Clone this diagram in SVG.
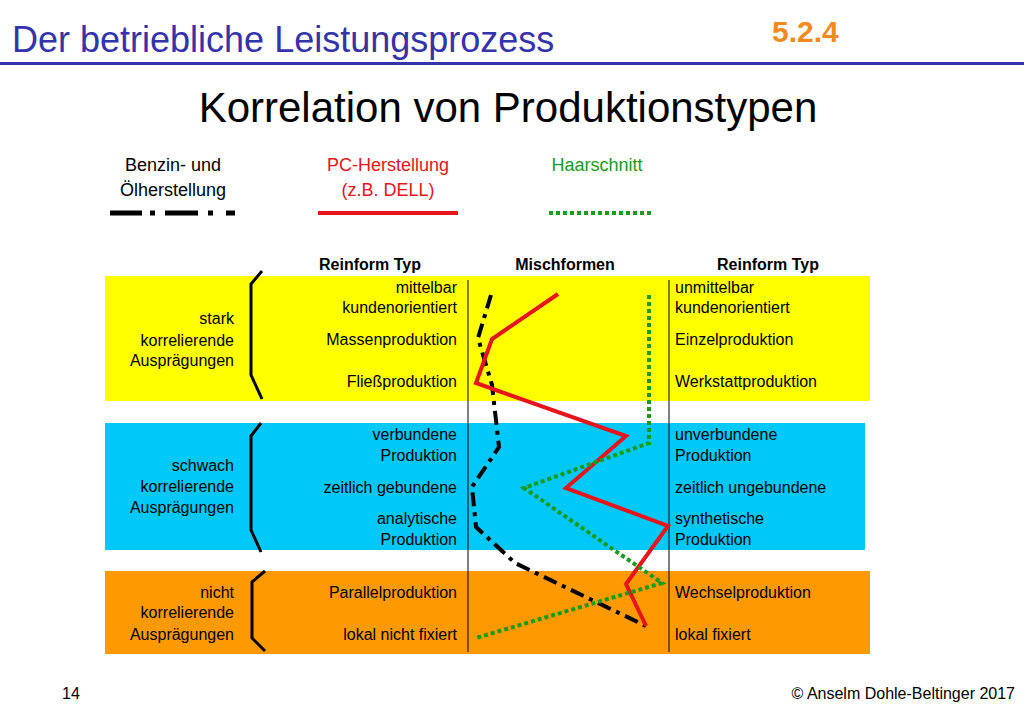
<svg xmlns="http://www.w3.org/2000/svg" width="1024" height="709" viewBox="0 0 1024 709">
<style>
text{font-family:"Liberation Sans",Arial,sans-serif;}
.t{font-size:16px;fill:#000}
.r{text-anchor:end}
.h{font-size:16px;font-weight:bold;text-anchor:middle}
.br{fill:none;stroke:#000;stroke-width:3}
</style>
<rect width="1024" height="709" fill="#fff"/>
<text x="12" y="52" font-size="36" fill="#3333aa">Der betriebliche Leistungsprozess</text>
<text x="772" y="42" font-size="30" font-weight="bold" fill="#f28a1e">5.2.4</text>
<rect x="0" y="62" width="1024" height="3" fill="#3333aa"/>
<text x="508" y="122" font-size="42" text-anchor="middle">Korrelation von Produktionstypen</text>
<g id="legend">
<text x="173" y="171" font-size="18" text-anchor="middle">Benzin- und</text>
<text x="173" y="196" font-size="18" text-anchor="middle">Ölherstellung</text>
<path d="M110 213H142M150 213H155M165 213H198M208 213H213M226 213H235" stroke="#000" stroke-width="5"/>
<text x="388" y="171" font-size="18" text-anchor="middle" fill="#e8141b">PC-Herstellung</text>
<text x="388" y="196" font-size="18" text-anchor="middle" fill="#e8141b">(z.B. DELL)</text>
<line x1="318" y1="213" x2="458" y2="213" stroke="#e8141b" stroke-width="4"/>
<text x="597" y="171" font-size="18" text-anchor="middle" fill="#1a9a1a">Haarschnitt</text>
<line x1="549" y1="213" x2="653" y2="213" stroke="#1a9a1a" stroke-width="4" stroke-dasharray="4 3"/>
</g>
<g id="bands">
<rect x="105" y="276" width="765" height="125" fill="#ffff00"/>
<rect x="105" y="423" width="760" height="127" fill="#00c8f8"/>
<rect x="105" y="571" width="765" height="83" fill="#ff9900"/>
<line x1="468" y1="280" x2="468" y2="652" stroke="#000" stroke-width="1"/>
<line x1="669" y1="280" x2="669" y2="652" stroke="#000" stroke-width="1"/>
</g>
<g id="headers">
<text class="h" x="370" y="270">Reinform Typ</text>
<text class="h" x="565" y="270">Mischformen</text>
<text class="h" x="768" y="270">Reinform Typ</text>
</g>
<g id="left">
<text class="t r" x="457" y="293">mittelbar</text>
<text class="t r" x="457" y="313">kundenorientiert</text>
<text class="t r" x="457" y="345">Massenproduktion</text>
<text class="t r" x="457" y="387">Fließproduktion</text>
<text class="t r" x="457" y="440">verbundene</text>
<text class="t r" x="457" y="461">Produktion</text>
<text class="t r" x="457" y="493">zeitlich gebundene</text>
<text class="t r" x="457" y="524">analytische</text>
<text class="t r" x="457" y="545">Produktion</text>
<text class="t r" x="457" y="598">Parallelproduktion</text>
<text class="t r" x="457" y="640">lokal nicht fixiert</text>
</g>
<g id="right">
<text class="t" x="675" y="293">unmittelbar</text>
<text class="t" x="675" y="313">kundenorientiert</text>
<text class="t" x="675" y="345">Einzelproduktion</text>
<text class="t" x="675" y="387">Werkstattproduktion</text>
<text class="t" x="675" y="440">unverbundene</text>
<text class="t" x="675" y="461">Produktion</text>
<text class="t" x="675" y="493">zeitlich ungebundene</text>
<text class="t" x="675" y="524">synthetische</text>
<text class="t" x="675" y="545">Produktion</text>
<text class="t" x="675" y="598">Wechselproduktion</text>
<text class="t" x="675" y="640">lokal fixiert</text>
</g>
<g id="groups">
<text class="t r" x="234" y="324">stark</text>
<text class="t r" x="234" y="346">korrelierende</text>
<text class="t r" x="234" y="366">Ausprägungen</text>
<text class="t r" x="234" y="471">schwach</text>
<text class="t r" x="234" y="492">korrelierende</text>
<text class="t r" x="234" y="513">Ausprägungen</text>
<text class="t r" x="234" y="598">nicht</text>
<text class="t r" x="234" y="618">korrelierende</text>
<text class="t r" x="234" y="640">Ausprägungen</text>
<path class="br" d="M262 271L251 284V375L262 399"/>
<path class="br" d="M261 423L251 436V530L261 552"/>
<path class="br" d="M265 571L252 582V638L265 651"/>
</g>
<g id="connectors" fill="none" stroke-width="4">
<polyline points="491,295 478,338 492,385 499,447 472,487 476,527 515,563 646,626" stroke="#000" stroke-dasharray="14 6 4 6"/>
<polyline points="558,294 492,339 476,383 626,436 566,488 668,526 626,584 646,626" stroke="#e8141b"/>
<polyline points="649,295 649,443 524,488 662,583 476,638" stroke="#1a9a1a" stroke-dasharray="4 3"/>
</g>
<text x="62" y="699" font-size="16">14</text>
<text x="1015" y="699" font-size="16" text-anchor="end">© Anselm Dohle-Beltinger 2017</text>
</svg>
